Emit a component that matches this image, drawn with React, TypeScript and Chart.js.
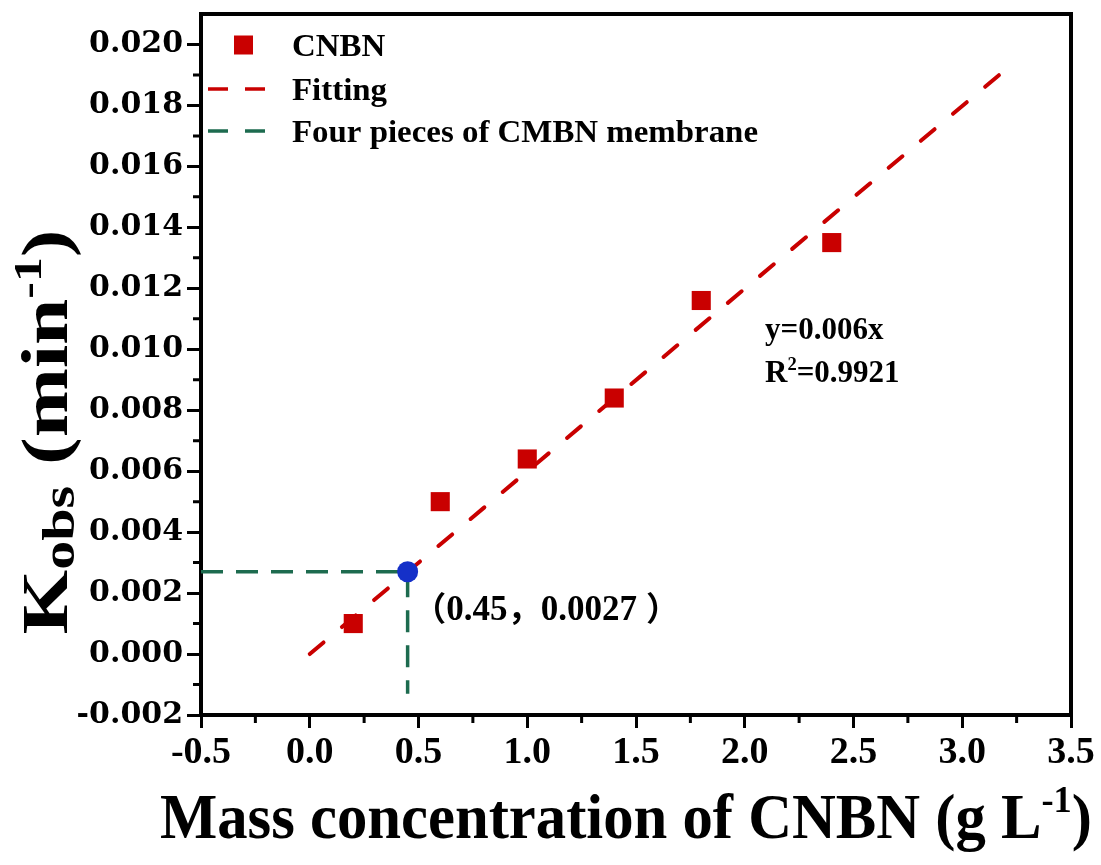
import { useEffect, useRef } from 'react';
import { Chart, registerables } from 'chart.js';

Chart.register(...registerables);

// Observed rate constants for each CNBN dose
const cnbnMass = [0.2, 0.6, 1.0, 1.4, 1.8, 2.4];
const cnbnKobs = [0.001, 0.005, 0.0064, 0.0084, 0.0116, 0.0135];

// Linear fit y = 0.006x, end points
const fitMass = [0, 3.17];
const fitKobs = [0, 0.019];

// Four pieces of CMBN membrane: equivalent point and its guide lines
const membraneMass = 0.45;
const membraneKobs = 0.0027;
const guideMass = [-0.5, 0.45, 0.45];
const guideKobs = [0.0027, 0.0027, -0.0013];

// Axis ticks
const xTicks = [-0.5, 0, 0.5, 1, 1.5, 2, 2.5, 3, 3.5];
const xTickLabels = ['-0.5', '0.0', '0.5', '1.0', '1.5', '2.0', '2.5', '3.0', '3.5'];
const xMinorTicks = [-0.25, 0.25, 0.75, 1.25, 1.75, 2.25, 2.75, 3.25];
const yTicks = [-0.002, 0, 0.002, 0.004, 0.006, 0.008, 0.01, 0.012, 0.014, 0.016, 0.018, 0.02];
const yTickLabels = ['-0.002', '0.000', '0.002', '0.004', '0.006', '0.008', '0.010', '0.012', '0.014', '0.016', '0.018', '0.020'];
const yMinorTicks = [-0.001, 0.001, 0.003, 0.005, 0.007, 0.009, 0.011, 0.013, 0.015, 0.017, 0.019];

const RED = '#c90000';
const GREEN = '#1d6b4f';
const BLUE = '#1530c8';
const SERIF = "'Liberation Serif', 'Times New Roman', serif";
const WIDE_SERIF = "'DejaVu Serif', serif";
const CJK = "'Noto Sans CJK SC', sans-serif";

type Run = { t: string; k?: number; dy?: number; dx?: number; f?: string };

function runFont(r: Run, size: number, family: string) {
  return `bold ${size * (r.k ?? 1)}px ${r.f ?? family}`;
}

function runsWidth(ctx: CanvasRenderingContext2D, runs: Run[], size: number, family: string) {
  let w = 0;
  for (const r of runs) {
    ctx.font = runFont(r, size, family);
    w += ctx.measureText(r.t).width + (r.dx ?? 0);
  }
  return w;
}

function drawRuns(
  ctx: CanvasRenderingContext2D,
  runs: Run[],
  size: number,
  family: string,
  x: number,
  y: number,
  sx: number,
  align: 'left' | 'center',
) {
  const w = runsWidth(ctx, runs, size, family);
  ctx.save();
  ctx.translate(x, y);
  ctx.scale(sx, 1);
  ctx.textAlign = 'left';
  ctx.textBaseline = 'alphabetic';
  ctx.fillStyle = '#000';
  let cx = align === 'center' ? -w / 2 : 0;
  for (const r of runs) {
    ctx.font = runFont(r, size, family);
    cx += r.dx ?? 0;
    ctx.fillText(r.t, cx, -(r.dy ?? 0) * size);
    cx += ctx.measureText(r.t).width;
  }
  ctx.restore();
}

const decorations = {
  id: 'decorations',
  afterDraw(chart: Chart) {
    const { ctx, chartArea: a } = chart;
    const xs = chart.scales.x;
    const ys = chart.scales.y;
    ctx.save();

    // top and right frame
    ctx.strokeStyle = '#000';
    ctx.lineWidth = 4;
    ctx.lineJoin = 'miter';
    ctx.beginPath();
    ctx.moveTo(a.left - 2, a.top);
    ctx.lineTo(a.right, a.top);
    ctx.lineTo(a.right, a.bottom + 2);
    ctx.stroke();

    // minor ticks
    ctx.lineWidth = 3;
    ctx.beginPath();
    for (const v of xMinorTicks) {
      const p = xs.getPixelForValue(v);
      ctx.moveTo(p, a.bottom);
      ctx.lineTo(p, a.bottom + 8);
    }
    for (const v of yMinorTicks) {
      const p = ys.getPixelForValue(v);
      ctx.moveTo(a.left, p);
      ctx.lineTo(a.left - 8, p);
    }
    ctx.stroke();

    // legend
    const labels = chart.data.datasets.map((d) => String(d.label));
    const legendSize = 31;
    const legendSx = 466 / runsWidth(ctx, [{ t: labels[2] }], legendSize, SERIF);
    const lx = 292;
    const rows = [45, 89, 131];

    ctx.fillStyle = RED;
    ctx.fillRect(234, rows[0] - 9.5, 19, 19);

    ctx.lineWidth = 3.5;
    ctx.setLineDash([20, 17]);
    ctx.strokeStyle = RED;
    ctx.beginPath();
    ctx.moveTo(208, rows[1]);
    ctx.lineTo(266, rows[1]);
    ctx.stroke();
    ctx.strokeStyle = GREEN;
    ctx.beginPath();
    ctx.moveTo(208, rows[2]);
    ctx.lineTo(266, rows[2]);
    ctx.stroke();
    ctx.setLineDash([]);

    drawRuns(ctx, [{ t: labels[0] }], legendSize, SERIF, lx, rows[0] + 11, legendSx, 'left');
    drawRuns(ctx, [{ t: labels[1] }], legendSize, SERIF, lx, rows[1] + 11, legendSx, 'left');
    drawRuns(ctx, [{ t: labels[2] }], legendSize, SERIF, lx, rows[2] + 11, legendSx, 'left');

    // fit equation
    drawRuns(ctx, [{ t: 'y=0.006x' }], 31, SERIF, 765, 339, 1, 'left');
    drawRuns(ctx, [{ t: 'R' }, { t: '2', k: 0.6, dy: 0.38 }, { t: '=0.9921' }], 31, SERIF, 765, 382, 1, 'left');

    // equivalent point label
    drawRuns(
      ctx,
      [
        { t: '（', f: CJK, k: 0.95 },
        { t: `${membraneMass.toFixed(2)}` },
        { t: '，', f: CJK, k: 0.95 },
        { t: `${membraneKobs.toFixed(4)}` },
        { t: '）', f: CJK, k: 0.95, dx: 9 },
      ],
      35,
      SERIF,
      413,
      620,
      1,
      'left',
    );

    // axis titles
    const xRuns: Run[] = [{ t: 'Mass concentration of CNBN (g L' }, { t: '-1', k: 0.6, dy: 0.4 }, { t: ')' }];
    const xSize = 64;
    drawRuns(ctx, xRuns, xSize, SERIF, 626, 838, 932 / runsWidth(ctx, xRuns, xSize, SERIF), 'center');

    const yRuns: Run[] = [
      { t: 'K' },
      { t: 'obs', k: 0.7, dy: -0.1 },
      { t: ' (min' },
      { t: '-1', k: 0.6, dy: 0.4 },
      { t: ')' },
    ];
    const ySize = 66;
    ctx.save();
    ctx.translate(67, 432);
    ctx.rotate(-Math.PI / 2);
    drawRuns(ctx, yRuns, ySize, SERIF, 0, 0, 405 / runsWidth(ctx, yRuns, ySize, SERIF), 'center');
    ctx.restore();

    ctx.restore();
  },
};

export default function App() {
  const canvasRef = useRef<HTMLCanvasElement | null>(null);

  useEffect(() => {
    const canvas = canvasRef.current;
    if (!canvas) return;

    const chart = new Chart(canvas, {
      type: 'scatter',
      data: {
        datasets: [
          {
            label: 'CNBN',
            data: cnbnMass.map((x, i) => ({ x, y: cnbnKobs[i] })),
            pointStyle: 'rect',
            pointRadius: 13.5,
            pointBackgroundColor: RED,
            pointBorderColor: RED,
            pointBorderWidth: 0,
            order: 1,
          },
          {
            label: 'Fitting',
            data: fitMass.map((x, i) => ({ x, y: fitKobs[i] })),
            showLine: true,
            borderColor: RED,
            borderWidth: 4,
            borderDash: [18, 24],
            borderCapStyle: 'round',
            pointRadius: 0,
            order: 3,
          },
          {
            label: 'Four pieces of CMBN membrane',
            data: guideMass.map((x, i) => ({ x, y: guideKobs[i] })),
            showLine: true,
            borderColor: GREEN,
            borderWidth: 3.5,
            borderDash: [22, 13],
            pointRadius: 0,
            order: 4,
          },
          {
            label: 'Equivalent point',
            data: [{ x: membraneMass, y: membraneKobs }],
            pointStyle: 'circle',
            pointRadius: 10.5,
            pointBackgroundColor: BLUE,
            pointBorderColor: BLUE,
            pointBorderWidth: 0,
            order: 0,
          },
        ],
      },
      options: {
        responsive: false,
        animation: false,
        devicePixelRatio: 1,
        layout: { padding: { left: 0, top: 14, right: 30, bottom: 0 } },
        plugins: {
          legend: { display: false },
          tooltip: { enabled: false },
        },
        scales: {
          x: {
            type: 'linear',
            min: -0.5,
            max: 3.5,
            afterBuildTicks: (scale: any) => {
              scale.ticks = xTicks.map((value) => ({ value }));
            },
            afterFit: (scale: any) => {
              scale.height = 150;
              scale.paddingLeft = 0;
              scale.paddingRight = 0;
            },
            border: { display: true, width: 4, color: '#000' },
            grid: {
              display: true,
              drawOnChartArea: false,
              drawTicks: true,
              tickLength: 13,
              tickWidth: 3,
              tickColor: '#000',
            },
            ticks: {
              autoSkip: false,
              maxRotation: 0,
              padding: 2,
              color: '#000',
              font: { family: SERIF, size: 38, weight: 'bold' },
              callback: (_v: any, i: number) => xTickLabels[i],
            },
          },
          y: {
            type: 'linear',
            min: -0.002,
            max: 0.021,
            afterBuildTicks: (scale: any) => {
              scale.ticks = yTicks.map((value) => ({ value }));
            },
            afterFit: (scale: any) => {
              scale.width = 201;
              scale.paddingTop = 0;
              scale.paddingBottom = 0;
            },
            border: { display: true, width: 4, color: '#000' },
            grid: {
              display: true,
              drawOnChartArea: false,
              drawTicks: true,
              tickLength: 14,
              tickWidth: 3,
              tickColor: '#000',
            },
            ticks: {
              autoSkip: false,
              padding: 4,
              color: '#000',
              font: { family: WIDE_SERIF, size: 30, weight: 'bold' },
              callback: (_v: any, i: number) => yTickLabels[i],
            },
          },
        },
      },
      plugins: [decorations],
    });

    return () => chart.destroy();
  }, []);

  return (
    <div style={{ position: 'fixed', left: 0, top: 0, width: 1101, height: 865, background: '#fff' }}>
      <canvas ref={canvasRef} width={1101} height={865} />
    </div>
  );
}
